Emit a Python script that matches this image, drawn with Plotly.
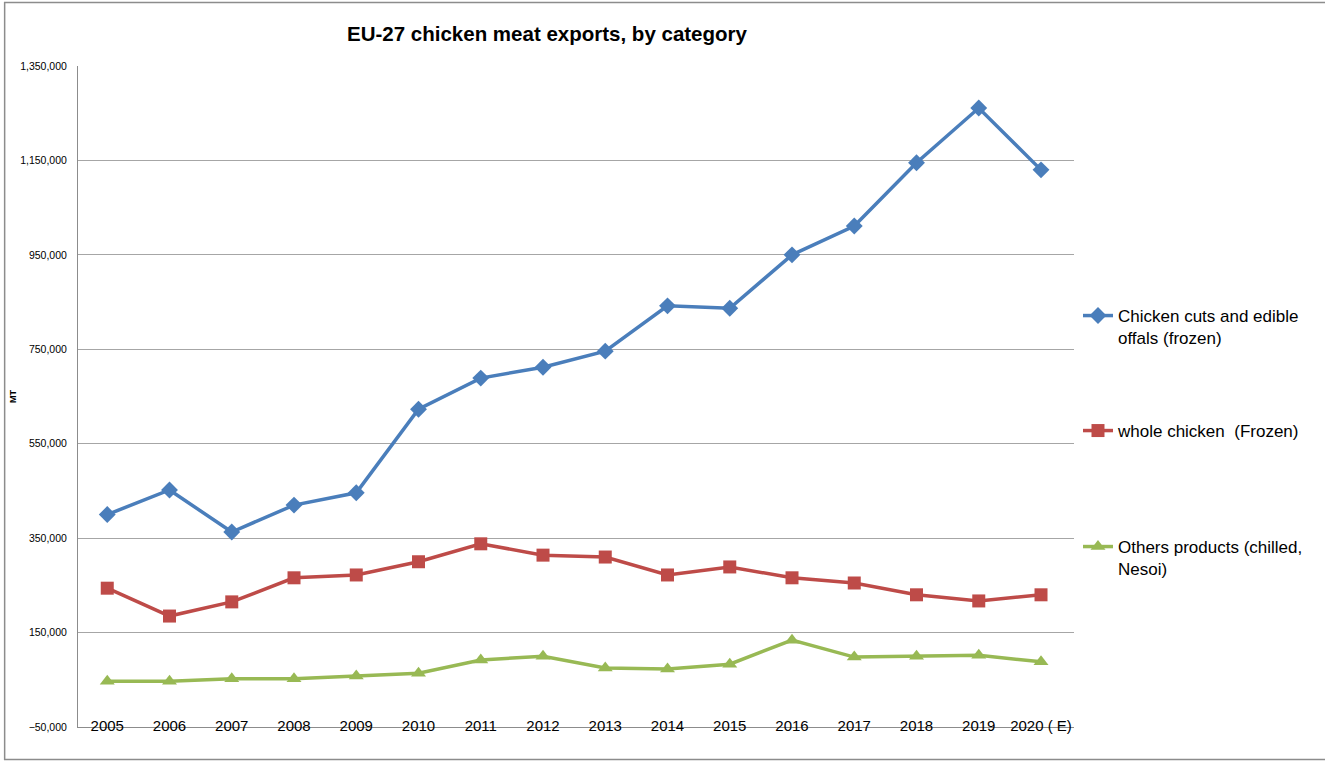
import plotly.graph_objects as go

years = ["2005", "2006", "2007", "2008", "2009", "2010", "2011", "2012",
         "2013", "2014", "2015", "2016", "2017", "2018", "2019", "2020 ( E)"]

cuts_frozen = [400000, 452000, 363000, 420000, 446000, 623000, 689000, 712000,
               746000, 842000, 837000, 950000, 1011000, 1145000, 1261000, 1130000]
whole_frozen = [244000, 185000, 215000, 266000, 272000, 300000, 338000, 314000,
                310000, 272000, 289000, 266000, 255000, 230000, 217000, 230000]
other_products = [47000, 47000, 52000, 52000, 58000, 64000, 92000, 100000,
                  75000, 73000, 83000, 134000, 98000, 100000, 102000, 88000]

names = ["Chicken cuts and edible<br>offals (frozen)",
         "whole chicken  (Frozen)",
         "Others products (chilled,<br>Nesoi)"]
colors = ["#4a7ebb", "#be4b48", "#98b954"]
symbols = ["diamond", "square", "triangle-up"]
sizes = [13, 13, 13]
series = [cuts_frozen, whole_frozen, other_products]
legend_ids = ["legend", "legend2", "legend3"]

fig = go.Figure()
for vals, nm, c, s, sz, lg in zip(series, names, colors, symbols, sizes, legend_ids):
    fig.add_trace(go.Scatter(
        x=years, y=vals, name=nm, mode="lines+markers",
        line=dict(color=c, width=3.5),
        marker=dict(symbol=s, size=sz, color=c),
        legend=lg,
    ))

L, R, T, B = 76, 251, 66, 34
W, H = 1325, 761
pw, ph = W - L - R, H - T - B

def px_x(p):
    return (p - L) / pw

def px_y(p):
    return (H - B - p) / ph

def legend_box(top_px):
    return dict(x=px_x(1078), xanchor="left", y=px_y(top_px), yanchor="top",
                font=dict(size=17, color="#000000"), valign="top",
                itemwidth=30, bgcolor="rgba(0,0,0,0)")

fig.update_layout(
    width=W, height=H,
    margin=dict(l=L, r=R, t=T, b=B),
    paper_bgcolor="white", plot_bgcolor="white",
    font=dict(family="Liberation Sans, Arial, sans-serif", color="#000000"),
    title=dict(text="<b>EU-27 chicken meat exports, by category</b>",
               x=547 / W, xref="container", xanchor="center",
               y=1 - 34 / H, yref="container", yanchor="middle",
               font=dict(size=20.5, color="#000000")),
    showlegend=True,
    legend=legend_box(298),
    legend2=legend_box(413),
    legend3=legend_box(529),
    xaxis=dict(type="category", range=[-0.47, 15.53], showgrid=False,
               showline=True, linecolor="#8c8c8c", linewidth=1,
               ticks="", tickfont=dict(size=15, color="#000000"),
               ticklabelstandoff=-15, zeroline=False, fixedrange=True),
    yaxis=dict(range=[-50000, 1350000], tick0=-50000, dtick=200000,
               tickformat=",d", showgrid=True, gridcolor="#a6a6a6", gridwidth=1,
               showline=True, linecolor="#8c8c8c", linewidth=1,
               zeroline=False, ticks="", ticklabelstandoff=8,
               tickfont=dict(size=10.5, color="#000000"),
               title=dict(text="<b>MT</b>", font=dict(size=9, color="#000000"),
                          standoff=2),
               fixedrange=True),
    shapes=[dict(type="rect", xref="paper", yref="paper",
                 x0=px_x(2.5), x1=px_x(1335), y0=px_y(759.5), y1=px_y(2.5),
                 line=dict(color="#8c8c8c", width=1.5), layer="below")],
)

fig.write_html("out.html")
